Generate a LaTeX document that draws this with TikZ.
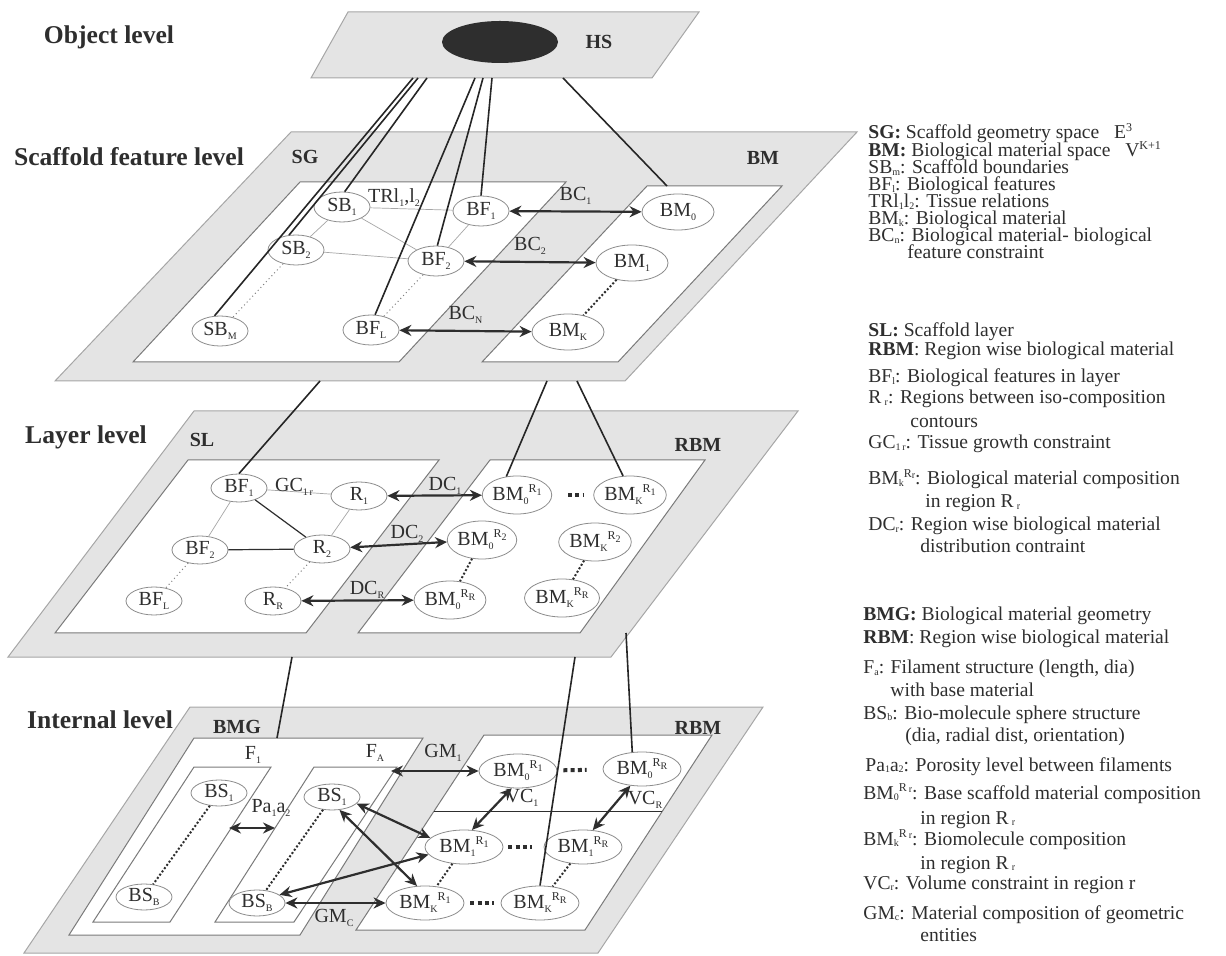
\documentclass[tikz,border=0pt]{standalone}
\usepackage{fontspec}
\setmainfont{Liberation Serif}
\usetikzlibrary{shapes.geometric,arrows.meta,calc}
\definecolor{planegray}{HTML}{E4E4E4}
\definecolor{edgegray}{HTML}{A6A6A6}
\definecolor{panelline}{HTML}{7A7A7A}
\definecolor{ink}{HTML}{2E2E2E}
\definecolor{ovalline}{HTML}{8C8C8C}
\newcommand{\lsub}[1]{\raisebox{-0.45ex}{\fontsize{5}{5}\selectfont #1}}
\newcommand{\lsup}[1]{\raisebox{0.85ex}{\fontsize{6}{6}\selectfont #1}}
\newcommand{\gsub}[1]{\raisebox{-0.2ex}{\fontsize{5}{5}\selectfont #1}}
\begin{document}
\begin{tikzpicture}[x=0.5pt,y=-0.5pt,
 plane/.style={fill=planegray,draw=edgegray,line width=0.5pt},
 panel/.style={fill=white,draw=panelline,line width=0.5pt},
 oval/.style={ellipse,draw=ovalline,fill=white,line width=0.4pt,inner sep=0pt,text=ink,font=\fontsize{10}{12}\selectfont},
 sS/.style={oval,minimum width=28pt,minimum height=15pt},
 sB/.style={oval,minimum width=36pt,minimum height=18pt},
 lS/.style={oval,minimum width=28pt,minimum height=14pt},
 lB/.style={oval,minimum width=32pt,minimum height=19pt},
 iS/.style={oval,minimum width=28pt,minimum height=13pt},
 iB/.style={oval,minimum width=39pt,minimum height=17pt},
 title/.style={text=ink,font=\fontsize{12.8}{15}\selectfont\bfseries,inner sep=0pt},
 plabel/.style={text=ink,font=\fontsize{10}{12}\selectfont\bfseries,inner sep=0pt},
 lbl/.style={text=ink,font=\fontsize{10}{12}\selectfont,inner sep=0pt},
 leg/.style={text=ink,font=\fontsize{9.8}{11}\selectfont,inner sep=0pt,anchor=base west},
 link/.style={draw=black!85,line width=0.8pt},
 faint/.style={draw=gray!70,line width=0.35pt},
 firm/.style={draw=ink,line width=0.6pt},
 biarrow/.style={draw=ink,line width=1.1pt,{Stealth[length=6pt,width=5.5pt]}-{Stealth[length=6pt,width=5.5pt]}},
 fdots/.style={draw=gray,line width=0.5pt,dash pattern=on 0.5pt off 1.5pt},
 vdots/.style={draw=ink,line width=1pt,dash pattern=on 1pt off 1pt},
 hdots/.style={draw=ink,line width=2pt,dash pattern=on 2pt off 1.6pt}
]
\useasboundingbox (0,0) rectangle (1226,956);

% ---------------- Object level
\path[plane] (348,12)--(699,12)--(652,78)--(311,78)--cycle;
\node[ellipse,fill=ink,minimum width=58pt,minimum height=21pt,inner sep=0pt] (hs) at (500,42) {};
\node[plabel] (hslbl) at (599,42) {HS};
\node[title] (t1) at (109,37) {Object level};

% ---------------- Scaffold feature level
\path[plane] (291,132)--(857,132)--(625,381)--(55,381)--cycle;
\path[panel] (300,182)--(566,182)--(399,362)--(133,362)--cycle;
\path[panel] (647,186)--(782,186)--(618,362)--(482,362)--cycle;
\node[title] (t2) at (129,157) {Scaffold feature level};
\node[plabel] (sglbl) at (305,157) {SG};
\node[plabel] (bmlbl) at (763,158) {BM};

\node[sS] (sb1) at (342,207) {SB\lsub{1}};
\node[sS] (sb2) at (296,250) {SB\lsub{2}};
\node[sS] (sbm) at (220,331) {SB\lsub{M}};
\node[sS] (bf1) at (481,211) {BF\lsub{1}};
\node[sS] (bf2) at (436,261) {BF\lsub{2}};
\node[sS] (bfl) at (371,330) {BF\lsub{L}};
\node[sB] (bm0) at (678,212) {BM\lsub{0}};
\node[sB] (bm1) at (632,263) {BM\lsub{1}};
\node[sB] (bmk) at (568,332) {BM\lsub{K}};

\draw[faint] (sb1) -- (bf1);
\draw[faint] (sb1) -- (bf2);
\draw[faint] (sb1) -- (sb2);
\draw[faint] (sb2) -- (bf2);
\draw[faint] (bf1) -- (bf2);
\draw[fdots] (sb2) -- (sbm);
\draw[fdots] (bf2) -- (bfl);
\draw[vdots] (bm1) -- (bmk);
\node[lbl] (tr) at (394,198) {TRl\lsub{1},l\lsub{2}};

\draw[biarrow] (bf1) -- (bm0) node[lbl,midway,above=3pt] {BC\lsub{1}};
\draw[biarrow] (bf2) -- (bm1) node[lbl,midway,above=3pt] {BC\lsub{2}};
\draw[biarrow] (bfl) -- (bmk) node[lbl,midway,above=3pt] {BC\lsub{N}};

% links object -> scaffold
\coordinate (o1) at (413,78);
\coordinate (o2) at (418,78);
\coordinate (o3) at (427,78);
\coordinate (o4) at (475,78);
\coordinate (o5) at (483,78);
\coordinate (o6) at (492,78);
\coordinate (o7) at (563,78);
\coordinate (bmtop) at (667,186);
\draw[link] (o1) -- (sbm.110);
\draw[link] (o2) -- (sb2.115);
\draw[link] (o3) -- (sb1.80);
\draw[link] (o4) -- (bfl.75);
\draw[link] (o5) -- (bf2.85);
\draw[link] (o6) -- (bf1.90);
\draw[link] (o7) -- (bmtop);

% ---------------- Layer level
\path[plane] (194,411)--(798,411)--(611,657)--(8,657)--cycle;
\path[panel] (188,460)--(439,460)--(306,633)--(55,633)--cycle;
\path[panel] (490,460)--(705,460)--(580,633)--(358,633)--cycle;
\node[title] (t3) at (86,437) {Layer level};
\node[plabel] (sllbl) at (202,440) {SL};
\node[plabel] (rbmlbl) at (698,445) {RBM};

\node[lS] (lbf1) at (239,488) {BF\lsub{1}};
\node[lS] (lbf2) at (200,550) {BF\lsub{2}};
\node[lS] (lbfl) at (154,601) {BF\lsub{L}};
\node[lS] (lr1) at (359,496) {R\lsub{1}};
\node[lS] (lr2) at (322,549) {R\lsub{2}};
\node[lS] (lrr) at (273,601) {R\lsub{R}};
\node[lB] (l01) at (517,495) {BM\lsub{0}\lsup{R\lsub{1}}};
\node[lB] (lk1) at (630,495) {BM\lsub{K}\lsup{R\lsub{1}}};
\node[lB] (l02) at (482,540) {BM\lsub{0}\lsup{R\lsub{2}}};
\node[lB] (lk2) at (595,542) {BM\lsub{K}\lsup{R\lsub{2}}};
\node[lB] (l0r) at (450,600) {BM\lsub{0}\lsup{R\lsub{R}}};
\node[lB] (lkr) at (562,598) {BM\lsub{K}\lsup{R\lsub{R}}};

\draw[faint] (lbf1) -- (lr1);
\draw[faint] (lbf1) -- (lbf2);
\draw[faint] (lr1) -- (lr2);
\draw[firm] (lbf1) -- (lr2);
\draw[firm] (lbf2) -- (lr2);
\draw[fdots] (lbf2) -- (lbfl);
\draw[fdots] (lr2) -- (lrr);
\draw[vdots] (l02) -- (l0r);
\draw[vdots] (lk2) -- (lkr);
\draw[hdots,shorten <=8pt,shorten >=5pt] (l01) -- (lk1);
\node[lbl] (gc) at (294,487) {GC\lsub{1\,r}};
\draw[biarrow] (lr1) -- (l01);
\draw[biarrow] (lr2) -- (l02);
\draw[biarrow] (lrr) -- (l0r);
\node[lbl] (dc1) at (445,486) {DC\lsub{1}};
\node[lbl] (dc2) at (407,534) {DC\lsub{2}};
\node[lbl] (dcr) at (367,590) {DC\lsub{R}};

% links scaffold -> layer
\coordinate (s1) at (320,381);
\coordinate (s2) at (547,381);
\coordinate (s3) at (577,381);
\draw[link] (s1) -- (lbf1.north);
\draw[link] (s2) -- (l01.120);
\draw[link] (s3) -- (lk1.110);

% ---------------- Internal level
\path[plane] (190,707)--(763,707)--(598,953)--(24,953)--cycle;
\path[panel] (194,738)--(423,738)--(300,935)--(69,935)--cycle;
\path[panel] (194,767)--(271,767)--(170,922)--(93,922)--cycle;
\path[panel] (314,767)--(397,767)--(294,922)--(215,922)--cycle;
\path[panel] (484,735)--(712,735)--(585,930)--(356,930)--cycle;
\coordinate (hl1) at (434,811);
\coordinate (hl2) at (662,811);
\draw[draw=ink,line width=0.5pt] (hl1) -- (hl2);
\node[title] (t4) at (100,720) {Internal level};
\node[plabel] (bmglbl) at (237,727) {BMG};
\node[plabel] (rbmlbl2) at (698,728) {RBM};
\node[lbl] (f1) at (253,755) {F\lsub{1}};
\node[lbl] (fa) at (375,753) {F\lsub{A}};

\node[iS] (bs1a) at (219,793) {BS\lsub{1}};
\node[iS] (bsba) at (144,897) {BS\lsub{B}};
\node[iS] (bs1b) at (332,797) {BS\lsub{1}};
\node[iS] (bsbb) at (257,903) {BS\lsub{B}};
\node[iB] (i0a) at (518,771) {BM\lsub{0}\lsup{R\lsub{1}}};
\node[iB] (i0b) at (642,769) {BM\lsub{0}\lsup{R\lsub{R}}};
\node[iB] (i1a) at (464,847) {BM\lsub{1}\lsup{R\lsub{1}}};
\node[iB] (i1b) at (583,847) {BM\lsub{1}\lsup{R\lsub{R}}};
\node[iB] (ika) at (425,903) {BM\lsub{K}\lsup{R\lsub{1}}};
\node[iB] (ikb) at (540,903) {BM\lsub{K}\lsup{R\lsub{R}}};

\draw[vdots] (bs1a) -- (bsba);
\draw[vdots] (bs1b) -- (bsbb);
\draw[vdots] (i1a) -- (ika);
\draw[vdots] (i1b) -- (ikb);
\draw[hdots,shorten <=3pt,shorten >=8pt] (i0a) -- (i0b);
\draw[hdots,shorten <=2.5pt,shorten >=6pt] (i1a) -- (i1b);
\draw[hdots,shorten <=3pt,shorten >=3.5pt] (ika) -- (ikb);

\coordinate (pa) at (229,828);
\coordinate (pb) at (275,828);
\draw[biarrow] (pa) -- (pb);
\node[lbl] (plbl) at (271,808) {Pa\lsub{1}a\lsub{2}};
\coordinate (fatop) at (391,771);
\draw[biarrow] (fatop) -- (i0a.west);
\node[lbl] (gm1) at (443,753) {GM\lsub{1}};
\draw[biarrow] (i0a.250) -- (i1a.65);
\node[lbl] (vc1) at (522,798) {VC\lsub{1}};
\draw[biarrow] (i0b.235) -- (i1b.60);
\node[lbl] (vcr) at (645,800) {VC\lsub{R}};
\draw[biarrow] (bs1b.-15) -- (i1a.165);
\draw[biarrow] (bs1b.-60) -- (ika.115);
\draw[biarrow] (bsbb.20) -- (i1a.192);
\draw[biarrow] (bsbb.east) -- (ika.west);
\node[lbl] (gmc) at (334,918) {GM\lsub{C}};

% links layer -> internal
\coordinate (y1) at (292,657);
\coordinate (y1e) at (277,738);
\coordinate (y2) at (575,657);
\coordinate (y3) at (626,633);
\draw[link] (y1) -- (y1e);
\draw[link] (y2) -- (ikb.north);
\draw[link] (y3) -- (i0b.120);

% ---------------- Legend
\node[leg] (g1) at (868,139) {\textbf{SG:} Scaffold geometry space~~ E\lsup{3}};
\node[leg] (g2) at (868,157) {\textbf{BM:} Biological material space~~ V\lsup{K+1}};
\node[leg] (g3) at (868,174) {SB\gsub{m}: Scaffold boundaries};
\node[leg] (g4) at (868,191) {BF\gsub{l}: Biological features};
\node[leg] (g5) at (868,208) {TRl\gsub{1}l\gsub{2}: Tissue relations};
\node[leg] (g6) at (868,225) {BM\gsub{k}: Biological material};
\node[leg] (g7) at (868,242) {BC\gsub{n}: Biological material- biological};
\node[leg] (g8) at (907,259) {feature constraint};

\node[leg] (h1) at (868,337) {\textbf{SL:} Scaffold layer};
\node[leg] (h2) at (868,356) {\textbf{RBM}: Region wise biological material};
\node[leg] (h3) at (868,383) {BF\gsub{l}: Biological features in layer};
\node[leg] (h4) at (868,404) {R\,\gsub{r}: Regions between iso-composition};
\node[leg] (h5) at (910,428) {contours};
\node[leg] (h6) at (868,449) {GC\gsub{1\,r}: Tissue growth constraint};
\node[leg] (h7) at (868,485) {BM\gsub{k}\lsup{R\gsub{r}}: Biological material composition};
\node[leg] (h8) at (925,508) {in region R\,\gsub{r}};
\node[leg] (h9) at (868,531) {DC\gsub{r}: Region wise biological material};
\node[leg] (h10) at (920,553) {distribution contraint};

\node[leg] (k1) at (863,621) {\textbf{BMG:} Biological material geometry};
\node[leg] (k2) at (863,644) {\textbf{RBM}: Region wise biological material};
\node[leg] (k3) at (863,674) {F\gsub{a}: Filament structure (length, dia)};
\node[leg] (k4) at (890,696) {with base material};
\node[leg] (k5) at (863,719) {BS\gsub{b}: Bio-molecule sphere structure};
\node[leg] (k6) at (905,741) {(dia, radial dist, orientation)};
\node[leg] (k7) at (865,771) {Pa\gsub{1}a\gsub{2}: Porosity level between filaments};
\node[leg] (k8) at (863,799) {BM\gsub{0}\lsup{R\,\gsub{r}}: Base scaffold material composition};
\node[leg] (k9) at (920,824) {in region R\,\gsub{r}};
\node[leg] (k10) at (863,845) {BM\gsub{k}\lsup{R\,\gsub{r}}: Biomolecule composition};
\node[leg] (k11) at (920,869) {in region R\,\gsub{r}};
\node[leg] (k12) at (863,889) {VC\gsub{r}: Volume constraint in region r};
\node[leg] (k13) at (863,919) {GM\gsub{c}: Material composition of geometric};
\node[leg] (k14) at (920,941) {entities};
\end{tikzpicture}
\end{document}
